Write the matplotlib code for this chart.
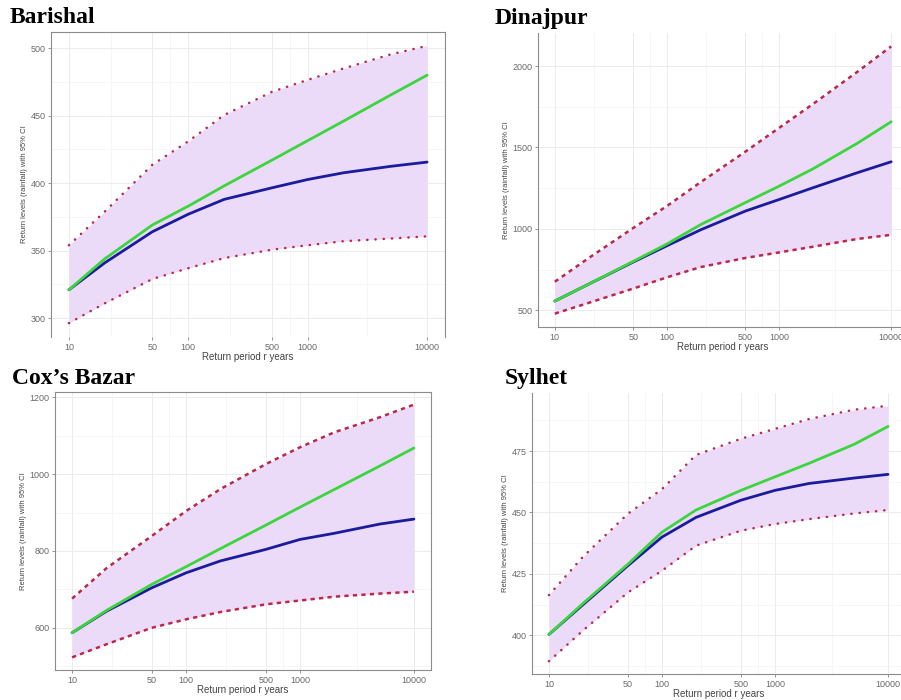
import numpy as np
import matplotlib
matplotlib.use("Agg")
import matplotlib.pyplot as plt

# ── data ─────────────────────────────────────────────────────────────────────
periods = [10, 20, 50, 100, 200, 500, 1000, 2000, 5000, 10000]

barishal_green = [321, 344, 369, 383, 398, 417, 431.5, 446, 465.5, 480]
barishal_blue = [321, 341, 364, 377, 388, 396.5, 402.7, 407.7, 412.5, 415.6]
barishal_upper = [354, 379, 413.6, 431, 450.5, 467.6, 476.5, 485, 495.5, 501.7]
barishal_lower = [296.3, 311, 329, 337, 344.5, 350.7, 354, 357, 359, 360.6]

dinajpur_green = [556, 660, 800, 907, 1026, 1161, 1262, 1368, 1526, 1658]
dinajpur_blue = [556, 660, 796, 896, 994, 1109, 1180, 1252, 1345, 1412]
dinajpur_upper = [675, 820, 1005, 1140, 1287, 1474, 1620, 1766, 1965, 2121]
dinajpur_lower = [479, 545, 633, 702, 765, 821, 855, 890, 938, 963]

cox_green = [587, 645, 713, 759, 806, 867, 914, 960, 1021, 1068]
cox_blue = [587, 643, 704, 743, 774, 804, 830, 846, 870, 883]
cox_upper = [676, 755, 839, 904, 961, 1026, 1070, 1109, 1148, 1181]
cox_lower = [523, 557, 600, 622, 641, 661, 671, 681, 689, 694]

sylhet_green = [400.4, 413, 429, 442, 451, 459, 464.5, 470, 477.7, 485]
sylhet_blue = [400.4, 412.5, 428.4, 440, 448, 455, 459, 461.8, 464, 465.5]
sylhet_upper = [416.4, 432, 449.5, 459.5, 473.4, 480, 484, 488, 491.8, 493.4]
sylhet_lower = [389.5, 402, 417.5, 426.3, 436.5, 442.6, 445.3, 447.3, 449.6, 451]

x_ticks = [10, 50, 100, 500, 1000, 10000]

FILL = "#EBDBF8"
GREEN = "#3DD53D"
BLUE = "#1B1B9E"
RED = "#B8294A"
GRID = "#EBEBEB"
TXT = "#6A6A6A"

fig = plt.figure(figsize=(9.01, 7.0), dpi=100)
plt.rcParams["font.family"] = ["Liberation Sans", "DejaVu Sans"]


def panel(rect, title, title_xy, green, blue, upper, lower, yticks,
          ci_style, capstyle, border="box"):
    ax = fig.add_axes(rect)
    x = np.array(periods, dtype=float)
    ax.fill_between(x, lower, upper, color=FILL, lw=0, zorder=1)
    for band in (upper, lower):
        ax.plot(x, band, color=RED, lw=1.8, linestyle=ci_style,
                dash_capstyle=capstyle, zorder=3)
    ax.plot(x, blue, color=BLUE, lw=2.0, zorder=4, solid_capstyle="round")
    ax.plot(x, green, color=GREEN, lw=2.0, zorder=5, solid_capstyle="round")

    ax.set_xscale("log")
    lo = np.log10(periods[0])
    hi = np.log10(periods[-1])
    pad = (hi - lo) * 0.05
    ax.set_xlim(10 ** (lo - pad), 10 ** (hi + pad))
    ymin = min(lower)
    ymax = max(upper)
    ypad = (ymax - ymin) * 0.05
    ax.set_ylim(ymin - ypad, ymax + ypad)

    ax.set_xticks(x_ticks)
    ax.set_xticklabels([str(t) for t in x_ticks])
    ax.minorticks_off()
    ax.set_yticks(yticks)
    ax.set_yticklabels([str(t) for t in yticks])

    # ggplot-like grid: majors plus midpoints
    for t in x_ticks:
        ax.axvline(t, color=GRID, lw=0.7, zorder=0)
    for a, b in zip(x_ticks[:-1], x_ticks[1:]):
        ax.axvline(np.sqrt(a * b), color="#F3F3F3", lw=0.5, zorder=0)
    step = yticks[1] - yticks[0]
    for t in yticks:
        ax.axhline(t, color=GRID, lw=0.7, zorder=0)
    for m in np.arange(yticks[0] - step / 2, yticks[-1] + step, step):
        ax.axhline(m, color="#F3F3F3", lw=0.5, zorder=0)

    ax.tick_params(axis="both", labelsize=6.5, colors=TXT, length=2,
                   width=0.5, pad=2)
    ax.set_xlabel("Return period r years", fontsize=7, color="#444444",
                  labelpad=0)
    ax.set_ylabel("Return levels (rainfall) with 95% CI", fontsize=5.5,
                  color="#444444", labelpad=2)

    for side, sp in ax.spines.items():
        sp.set_color("#8C8C8C")
        sp.set_linewidth(0.8)
    if border == "lb":
        ax.spines["top"].set_visible(False)
        ax.spines["right"].set_visible(False)
    elif border == "box_nobottom":
        ax.spines["bottom"].set_visible(False)

    fig.text(title_xy[0] / 901, 1 - title_xy[1] / 700, title,
             family=["Liberation Serif", "DejaVu Serif"], fontweight="bold",
             fontsize=17, ha="left", va="baseline")
    return ax


dotted = (0, (0.1, 3.2))
dashed = (0, (1.7, 1.7))

panel([51 / 901, 1 - 337 / 700, 394 / 901, 305 / 700], "Barishal", (10, 23),
      barishal_green, barishal_blue, barishal_upper, barishal_lower,
      [300, 350, 400, 450, 500], dotted, "round", border="box_nobottom")

panel([538 / 901, 1 - 327 / 700, 370 / 901, 294 / 700], "Dinajpur", (495, 24),
      dinajpur_green, dinajpur_blue, dinajpur_upper, dinajpur_lower,
      [500, 1000, 1500, 2000], dashed, "butt", border="lb")

panel([55 / 901, 1 - 670 / 700, 376 / 901, 278 / 700], "Cox\u2019s Bazar",
      (12, 384),
      cox_green, cox_blue, cox_upper, cox_lower,
      [600, 800, 1000, 1200], dashed, "butt", border="box")

panel([532 / 901, 1 - 674 / 700, 373 / 901, 281 / 700], "Sylhet", (505, 384),
      sylhet_green, sylhet_blue, sylhet_upper, sylhet_lower,
      [400, 425, 450, 475], dotted, "round", border="lb")

fig.savefig("out.png", dpi=100)
print("Saved out.png")
